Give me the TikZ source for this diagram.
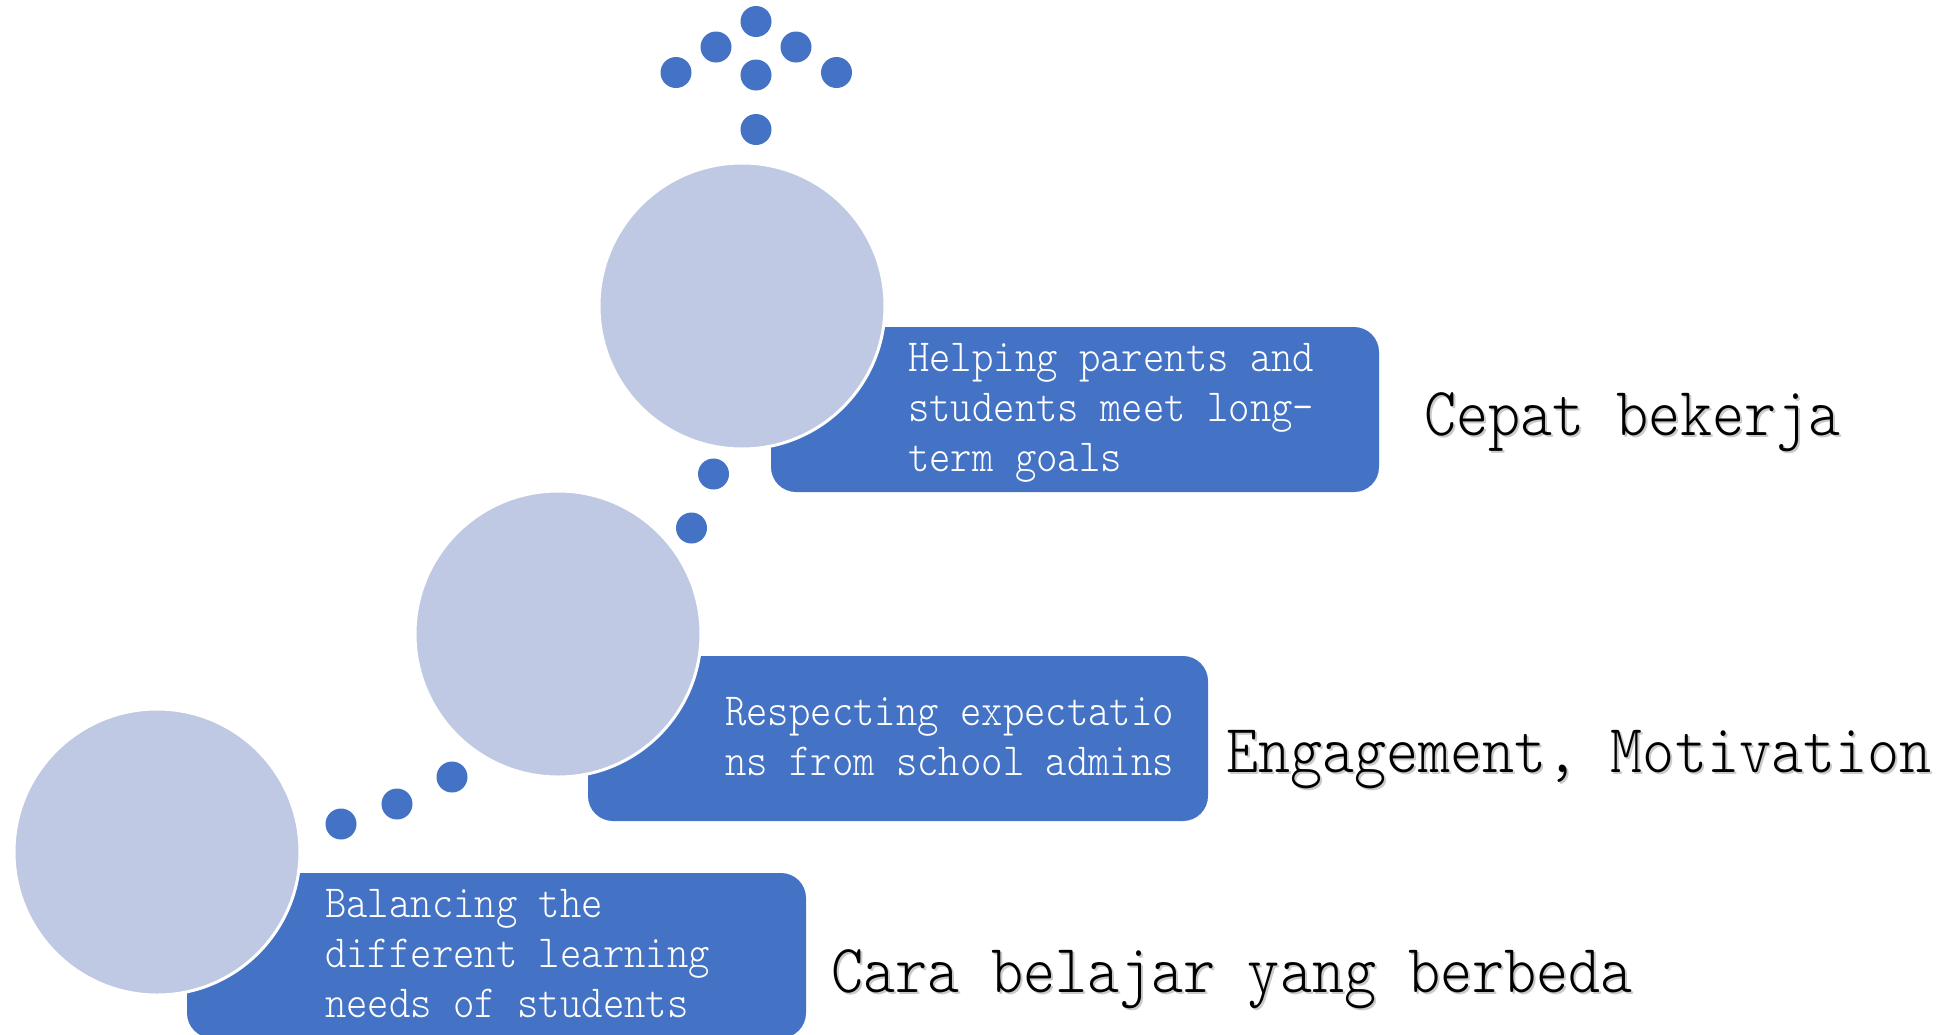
\documentclass[tikz,border=0pt]{standalone}
\usepackage{fontspec}
\newfontfamily\lmmono[FakeStretch=0.885]{lmmonolt10-regular.otf}
\definecolor{boxblue}{RGB}{68,114,196}
\definecolor{circblue}{RGB}{191,201,227}
\tikzset{
  stepbox/.style={fill=boxblue, rounded corners=25pt, inner sep=0pt, outer sep=0pt, anchor=north west},
  bigcirc/.style={circle, fill=circblue, draw=white, line width=3pt, inner sep=0pt, minimum size=286pt},
  dot/.style={circle, fill=boxblue, inner sep=0pt, minimum size=31pt},
  boxtext/.style={text=white, anchor=base west, inner sep=0pt, font=\lmmono\fontsize{46}{50}\selectfont},
  labeltext/.style={text=black, anchor=base west, inner sep=0pt, font=\lmmono\fontsize{69}{72}\selectfont},
  labelshadow/.style={text=black!35, opacity=0.6, anchor=base west, inner sep=0pt, font=\lmmono\fontsize{69}{72}\selectfont}
}
\begin{document}
\begin{tikzpicture}[x=1pt,y=-1pt]
\path[use as bounding box] (0,0) rectangle (1939,1034);
\begin{scope}
\clip (0,0) rectangle (1939,1034);
% top arrow of dots
\node[dot] (d1) at (756,21.5) {};
\node[dot] (d2) at (716,47) {};
\node[dot] (d3) at (796,47) {};
\node[dot] (d4) at (676,72.5) {};
\node[dot] (d5) at (756,75) {};
\node[dot] (d6) at (836.5,72.5) {};
\node[dot] (d7) at (756,129.5) {};
% dots between circles
\node[dot] (d8) at (713.5,474) {};
\node[dot] (d9) at (691.5,528) {};
\node[dot] (d10) at (452,777) {};
\node[dot] (d11) at (397,804) {};
\node[dot] (d12) at (341,824) {};
% boxes
\node[stepbox, minimum width=608pt, minimum height=165pt] (b1) at (771,327) {};
\node[stepbox, minimum width=620pt, minimum height=165pt] (b2) at (588,656) {};
\node[stepbox, minimum width=619pt, minimum height=165pt] (b3) at (187,873) {};
% circles
\node[bigcirc] (c1) at (742,306) {};
\node[bigcirc] (c2) at (558,634) {};
\node[bigcirc] (c3) at (157,852) {};
% box texts
\node[boxtext] (t1a) at (908,371) {Helping parents and};
\node[boxtext] (t1b) at (908,421) {students meet long-};
\node[boxtext] (t1c) at (908,471) {term goals};
\node[boxtext] (t2a) at (725,725) {Respecting expectatio};
\node[boxtext] (t2b) at (725,775) {ns from school admins};
\node[boxtext] (t3a) at (325,917) {Balancing the};
\node[boxtext] (t3b) at (325,967) {different learning};
\node[boxtext] (t3c) at (325,1017) {needs of students};
% labels
\node[labelshadow] (s1) at (1426,437) {Cepat bekerja};
\node[labelshadow] (s2) at (1228,774) {Engagement, Motivation};
\node[labelshadow] (s3) at (833,994) {Cara belajar yang berbeda};
\node[labeltext] (l1) at (1424,435) {Cepat bekerja};
\node[labeltext] (l2) at (1226,772) {Engagement, Motivation};
\node[labeltext] (l3) at (831,992) {Cara belajar yang berbeda};
\end{scope}
\end{tikzpicture}
\end{document}
